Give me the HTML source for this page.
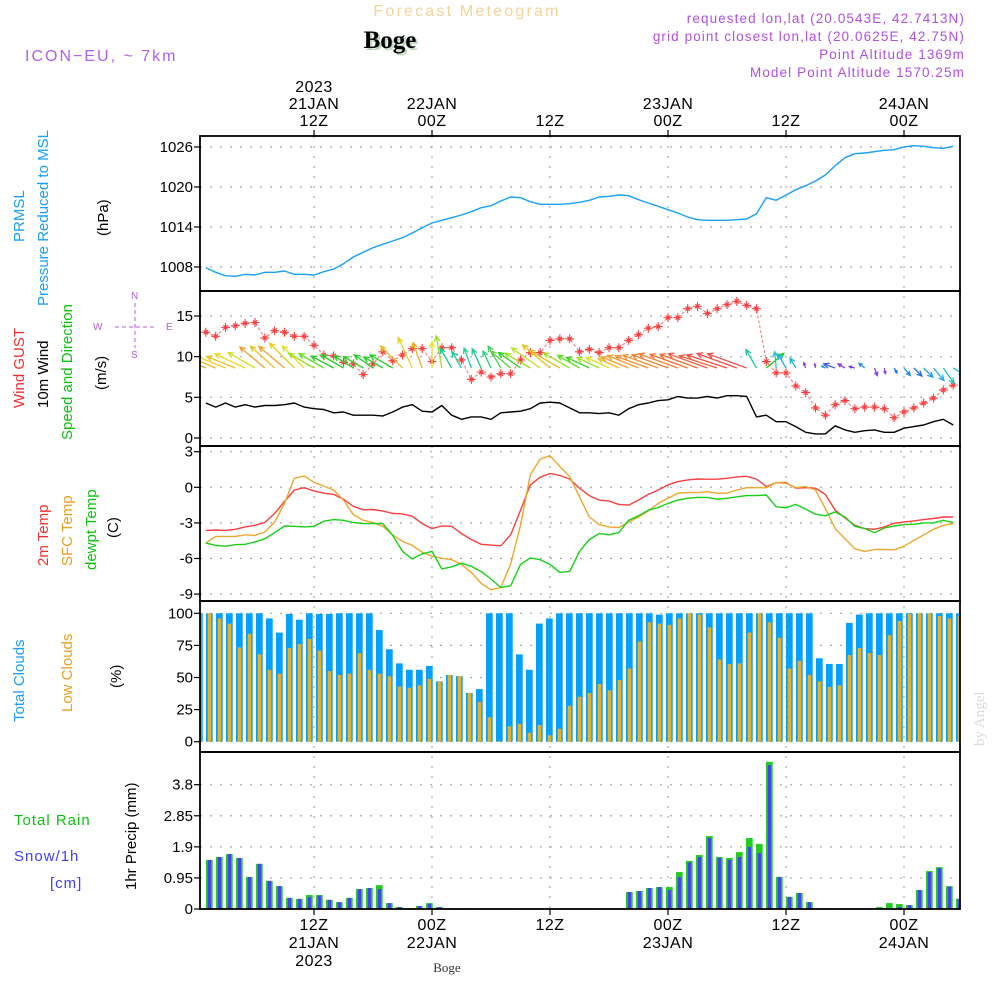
<!DOCTYPE html>
<html><head><meta charset="utf-8"><style>
html,body{margin:0;padding:0;background:#fff}
svg{display:block}
text{font-family:"Liberation Sans",sans-serif}
</style></head><body>
<svg id="chart" width="1000" height="1000" viewBox="0 0 1000 1000" xmlns="http://www.w3.org/2000/svg">
<rect x="0" y="0" width="1000" height="1000" fill="#fff"/>
<text x="467" y="16" text-anchor="middle" font-size="16" letter-spacing="2.2" fill="#f3d49c">Forecast Meteogram</text>
<text x="392" y="50" text-anchor="middle" font-size="25" font-weight="bold" fill="#bcd8bc" style="font-family:'Liberation Serif',serif">Boge</text>
<text x="390" y="48" text-anchor="middle" font-size="25" font-weight="bold" fill="#000" style="font-family:'Liberation Serif',serif">Boge</text>
<text x="25" y="61" font-size="16" letter-spacing="2" fill="#b060e8">ICON−EU, ~ 7km</text>
<g font-size="13.5" fill="#b050e0" text-anchor="end" letter-spacing="1.1">
<text x="965" y="23">requested lon,lat (20.0543E, 42.7413N)</text>
<text x="965" y="41">grid point closest lon,lat (20.0625E, 42.75N)</text>
<text x="965" y="59">Point Altitude 1369m</text>
<text x="965" y="77">Model Point Altitude 1570.25m</text>
</g>
<g id="grid"></g>
<g id="marks"></g>
<g id="frames"></g>
<g id="labels" font-size="15"></g>
<g font-size="15">
<text transform="translate(24,242) rotate(-90)" fill="#1aa0f0">PRMSL</text>
<text transform="translate(48,306) rotate(-90)" fill="#1aa0f0">Pressure Reduced to MSL</text>
<text transform="translate(108,236) rotate(-90)" fill="#000">(hPa)</text>
<text transform="translate(24,408) rotate(-90)" fill="#f03030">Wind GUST</text>
<text transform="translate(48,408) rotate(-90)" fill="#000">10m Wind</text>
<text transform="translate(72,440) rotate(-90)" fill="#10c010">Speed and Direction</text>
<text transform="translate(106,390) rotate(-90)" fill="#000">(m/s)</text>
<text transform="translate(48,566) rotate(-90)" fill="#f03030">2m Temp</text>
<text transform="translate(72,566) rotate(-90)" fill="#e8a020">SFC Temp</text>
<text transform="translate(96,570) rotate(-90)" fill="#10c010">dewpt Temp</text>
<text transform="translate(118,538) rotate(-90)" fill="#000">(C)</text>
<text transform="translate(24,722) rotate(-90)" fill="#1aa0f0">Total Clouds</text>
<text transform="translate(72,712) rotate(-90)" fill="#e8a020">Low Clouds</text>
<text transform="translate(121,688) rotate(-90)" fill="#000">(%)</text>
<text transform="translate(136,890) rotate(-90)" fill="#000">1hr Precip (mm)</text>
<text x="14" y="825" fill="#10c010" letter-spacing="1">Total  Rain</text>
<text x="14" y="861" fill="#4040f0" letter-spacing="1">Snow/1h</text>
<text x="50" y="888" fill="#4040f0" letter-spacing="1">[cm]</text>
</g>
<g fill="#b060e0" stroke="#b060e0" font-size="10">
<text x="93" y="330" stroke="none">W</text><text x="166" y="330" stroke="none">E</text>
<text x="131" y="299" stroke="none">N</text><text x="131" y="358" stroke="none">S</text>
<line x1="115" y1="327" x2="157" y2="327" stroke-width="1" stroke-dasharray="4 3"/>
<line x1="135" y1="303" x2="135" y2="348" stroke-width="1" stroke-dasharray="4 3"/>
</g>
<text transform="translate(984,746) rotate(-90)" font-size="15" fill="#d8ddd8" style="font-family:'Liberation Serif',serif">by Angel</text>
<text x="447" y="972" text-anchor="middle" font-size="13" fill="#333" style="font-family:'Liberation Serif',serif">Boge</text>
</svg>
<script>
const pressure=[1007.9,1007.2,1006.7,1006.6,1006.9,1006.8,1007.2,1007.2,1007.4,1006.9,1006.9,1006.8,1007.3,1007.7,1008.5,1009.5,1010.2,1010.9,1011.4,1011.9,1012.4,1013.1,1013.9,1014.6,1015.0,1015.4,1015.8,1016.3,1016.9,1017.2,1017.9,1018.5,1018.4,1017.8,1017.4,1017.4,1017.4,1017.5,1017.7,1018.0,1018.5,1018.6,1018.8,1018.7,1018.1,1017.6,1017.1,1016.6,1016.1,1015.5,1015.1,1015.0,1015.0,1015.0,1015.1,1015.2,1016.0,1018.4,1018.0,1018.8,1019.6,1020.2,1020.9,1021.8,1023.2,1024.4,1025.0,1025.1,1025.3,1025.5,1025.6,1026.0,1026.2,1026.1,1025.9,1025.8,1026.1];
const gust=[13.0,12.5,13.6,13.8,14.1,14.2,12.3,13.2,13.0,12.5,12.5,11.4,10.2,10.1,9.3,9.1,7.8,9.1,10.6,9.5,10.2,11.0,11.0,9.4,11.1,11.1,9.6,7.2,8.1,7.5,7.9,7.9,9.6,10.5,10.5,12.0,12.2,12.2,10.6,10.9,10.5,11.1,11.1,12.0,12.7,13.5,13.7,14.8,14.8,15.9,16.2,15.3,15.9,16.4,16.8,16.3,15.9,9.4,8.0,8.0,6.4,5.6,3.7,2.8,4.1,4.6,3.6,3.8,3.8,3.6,2.5,3.2,3.7,4.3,4.9,5.9,6.5];
const wind10=[4.3,3.8,4.3,3.8,4.1,3.8,4.0,4.0,4.1,4.3,3.8,3.6,3.5,3.1,3.2,2.8,2.8,2.8,2.7,3.2,3.8,4.1,3.3,3.2,4.0,2.8,2.3,2.6,2.6,2.3,3.1,3.2,3.3,3.6,4.3,4.4,4.3,3.7,3.1,3.1,3.0,3.1,2.8,3.6,4.1,4.3,4.6,4.7,5.1,4.9,4.9,5.1,4.9,5.2,5.2,5.1,2.6,2.8,2.0,2.0,1.4,0.7,0.5,0.5,1.5,1.0,0.7,0.9,1.0,0.7,0.7,1.2,1.4,1.6,2.0,2.3,1.6];
const windDir=[157,157,158,158,155,150,140,138,140,135,135,150,150,152,150,148,150,145,150,150,135,115,110,90,100,120,120,110,115,115,120,140,145,150,145,140,150,150,150,155,155,155,155,158,158,160,160,160,160,160,160,160,162,162,160,160,120,40,95,120,120,110,100,150,160,150,165,140,-70,-80,-60,-50,-45,-45,-50,-55,-30];
const windColor=["#f0a020","#f0b020","#e8d020","#e8c020","#e8d820","#d8e020","#f0a030","#e8c020","#f0a030","#e8d020","#e0e020","#a0e020","#60e020","#20d020","#20d020","#20d020","#30d020","#20d020","#20d020","#20d020","#e8c020","#e8d020","#f0b020","#e8e020","#a0e020","#20c890","#20c8a0","#20d0a0","#20c890","#20d080","#40d060","#60d040","#20d020","#a0e020","#c0e020","#e8c020","#e8c020","#a0e020","#60e020","#40d020","#a0e020","#e0e020","#e8c020","#f0a030","#f0a030","#f09030","#f09030","#f08030","#f08030","#f07030","#f07030","#f06040","#f06040","#f05040","#f05050","#f05050","#20c8a0","#20d020","#20c8c0","#20b0e0","#20b0e0","#9040e0","#9040e0","#2090e0","#4060e0","#9040e0","#7040e0","#2090e0","#9040e0","#9040e0","#2070e0","#2090e0","#2070e0","#20a0e0","#20b0e0","#20c0c0","#20c0e0"];
const temp2m=[-3.63,-3.6,-3.63,-3.54,-3.34,-3.2,-2.97,-2.2,-1.2,-0.23,-0.03,-0.3,-0.5,-0.6,-1.0,-1.6,-1.9,-1.87,-2.0,-2.2,-2.24,-2.44,-3.06,-3.48,-3.26,-3.29,-3.9,-4.4,-4.8,-4.87,-4.93,-4.0,-1.93,0.2,0.85,1.16,1.0,0.7,-0.08,-0.7,-1.08,-1.16,-1.44,-1.5,-1.08,-0.6,-0.23,0.2,0.48,0.62,0.7,0.68,0.68,0.76,0.88,0.93,0.7,0.06,0.4,0.4,-0.08,-0.03,-0.08,-0.6,-1.93,-2.58,-3.2,-3.48,-3.54,-3.34,-3.03,-2.92,-2.83,-2.72,-2.63,-2.5,-2.5];
const tempSfc=[-4.7,-4.14,-4.14,-4.14,-4.0,-4.05,-3.77,-2.92,-1.36,0.76,0.96,0.42,0.1,-0.23,-1.08,-2.3,-2.78,-2.97,-3.29,-4.0,-4.56,-4.9,-5.47,-5.8,-5.98,-6.1,-6.5,-7.17,-8.1,-8.64,-8.44,-6.46,-3.2,1.05,2.38,2.66,1.76,0.9,-0.8,-2.5,-3.14,-3.34,-3.4,-2.92,-2.5,-2.0,-1.36,-0.93,-0.5,-0.45,-0.45,-0.37,-0.5,-0.5,-0.23,-0.03,-0.03,-0.03,0.4,0.34,-0.03,0.06,-0.23,-1.78,-3.48,-4.33,-5.18,-5.4,-5.24,-5.24,-5.27,-4.96,-4.48,-4.0,-3.54,-3.2,-3.06];
const dewpt=[-4.7,-4.9,-4.96,-4.84,-4.8,-4.6,-4.33,-3.82,-3.26,-3.29,-3.34,-3.29,-2.86,-2.72,-2.78,-2.97,-3.06,-3.06,-3.06,-4.05,-5.4,-6.03,-5.6,-5.4,-6.88,-6.7,-6.4,-6.66,-7.1,-7.73,-8.44,-8.3,-6.5,-5.95,-6.1,-6.5,-7.17,-7.08,-5.4,-4.4,-3.9,-4.0,-3.82,-2.78,-2.4,-1.93,-1.7,-1.36,-1.08,-0.93,-0.85,-0.85,-1.0,-0.93,-0.8,-0.7,-0.7,-0.65,-1.64,-1.73,-1.44,-1.84,-2.27,-2.4,-2.07,-2.5,-3.29,-3.48,-3.82,-3.43,-3.26,-3.14,-3.12,-3.0,-3.0,-2.78,-2.97];
const totalClouds=[100,100,100,100,100,100,100,96,85,99.5,95,100,99.5,99.5,100,100,100,100,87,72,61,56,56,59,47,52,51,38,41,100,100,100,68,56,92,96,100,100,100,100,100,100,100,100,100,100,99,100,100,100,100,100,100,100,100,100,100,100,100,100,100,100,65,60.5,60.5,92.5,99,100,100,100,100,100,100,100,100,100,100];
const lowClouds=[100,100,96,92,73.5,84,68,56,53,73,76,80,71,55,52,53,69,56,53,51,43,42,44,49,47,52,51,38,31,19,0.5,12,14,7,13,5,10,28,35,38,45,40,48,57,78,93,92,91,96,100,99,89,64,60.5,61,85,100,93,81,57,63,52,47,42.6,44,67.5,73,69,67.5,83,94,99.5,100,100,98,96,98];
const rainTotal=[0,1.50,1.59,1.68,1.56,0.98,1.38,0.86,0.70,0.34,0.31,0.43,0.43,0.28,0.21,0.34,0.61,0.64,0.73,0.18,0.06,0.02,0.09,0.18,0.06,0.02,0.02,0,0,0,0,0,0,0,0,0,0,0,0,0,0,0,0.01,0.52,0.55,0.64,0.67,0.67,1.13,1.47,1.65,2.23,1.59,1.56,1.74,2.17,1.99,4.50,0.98,0.37,0.49,0.21,0,0,0,0,0,0,0.06,0.18,0.15,0.12,0.58,1.16,1.28,0.70,0.31];
const snow=[0,1.50,1.59,1.68,1.56,0.98,1.38,0.86,0.70,0.34,0.31,0.37,0.41,0.28,0.21,0.34,0.61,0.64,0.61,0.18,0.06,0.02,0.09,0.16,0.06,0.02,0.02,0,0,0,0,0,0,0,0,0,0,0,0,0,0,0,0.01,0.52,0.55,0.64,0.67,0.58,0.98,1.42,1.59,2.17,1.56,1.50,1.59,1.90,1.71,4.40,0.98,0.37,0.49,0.21,0,0,0,0,0,0,0,0,0.06,0.12,0.58,1.13,1.25,0.68,0.31];
const pressTicks=[1008,1014,1020,1026];
const windTicks=[0,5,10,15];
const tempTicks=[-9,-6,-3,0,3];
const cloudTicks=[0,25,50,75,100];
const precipTicks=[0,0.95,1.9,2.85,3.8];
const precipTickLabels=["0","0.95","1.9","2.85","3.8"];
const timeTicks=[12,24,36,48,60,72];
const topLabels=[["2023","21JAN","12Z"],["22JAN","00Z"],["12Z"],["23JAN","00Z"],["12Z"],["24JAN","00Z"]];
const bottomLabels=[["12Z","21JAN","2023"],["00Z","22JAN"],["12Z"],["00Z","23JAN"],["12Z"],["00Z","24JAN"]];

const X0=200,X1=960;
const xT=h=>314+(h-12)*118/12;
const xBar=j=>196+j*10;
const lin=(d0,d1,r0,r1)=>v=>r0+(v-d0)*(r1-r0)/(d1-d0);
const yP=lin(1008,1026,267,147);
const yW=lin(0,15,438,316);
const yT=lin(0,3,487.3,451.7);
const yC=lin(0,100,741.7,613.3);
const yR=lin(0,3.8,909,784.7);
const panels=[[136,291],[291,446],[446,601],[601,752],[752,909]];
const NS="http://www.w3.org/2000/svg";
function mk(tag,attrs,parent){const e=document.createElementNS(NS,tag);for(const k in attrs)e.setAttribute(k,attrs[k]);parent.appendChild(e);return e;}
const G=document.getElementById('grid'),M=document.getElementById('marks'),F=document.getElementById('frames'),L=document.getElementById('labels');

const defs=mk('defs',{},document.getElementById('chart'));
const cp=mk('clipPath',{id:'plotclip'},defs);mk('rect',{x:X0,y:136,width:X1-X0,height:773},cp);
M.setAttribute('clip-path','url(#plotclip)');

function hgrid(vals,yf,lbls,name){vals.forEach((v,k)=>{const y=yf(v);
 const g=mk('line',{x1:X0,x2:X1,y1:y,y2:y,stroke:'#aaa','stroke-width':1.2,'stroke-dasharray':'2 8'},G);
 
 
 const tk=mk('line',{x1:X0-6,x2:X0,y1:y,y2:y,stroke:'#000','stroke-width':1.2},F);
 
 
 const t=mk('text',{x:X0-7,y:y+5,'text-anchor':'end',fill:'#000'},L);t.textContent=lbls?lbls[k]:String(v);
 
 
});}
hgrid(pressTicks,yP,null,'pressure');
hgrid(windTicks,yW,null,'wind');
hgrid(tempTicks,yT,null,'temp');
hgrid(cloudTicks,yC,null,'cloud');
hgrid(precipTicks,yR,precipTickLabels,'precip');
timeTicks.forEach((h,k)=>{const x=xT(h);
 const g=mk('line',{x1:x,x2:x,y1:136,y2:909,stroke:'#aaa','stroke-width':1.2,'stroke-dasharray':'2 8'},G);
 
 
 mk('line',{x1:x,x2:x,y1:130,y2:136,stroke:'#000','stroke-width':1.2},F);
 mk('line',{x1:x,x2:x,y1:909,y2:915,stroke:'#000','stroke-width':1.2},F);
 const tl=topLabels[k];tl.forEach((s,r)=>{const t=mk('text',{x:x,y:126-(tl.length-1-r)*17,'text-anchor':'middle',fill:'#000','font-size':16,'letter-spacing':'0.5'},L);t.textContent=s;
  
  });
 bottomLabels[k].forEach((s,r)=>{const t=mk('text',{x:x,y:930+r*18,'text-anchor':'middle',fill:'#000','font-size':16,'letter-spacing':'0.5'},L);t.textContent=s;
  
  });
});

function line(arr,yf,color,w,name,dash){const pts=arr.map((v,i)=>xT(i+1).toFixed(1)+','+yf(v).toFixed(1)).join(' ');
 const p=mk('polyline',{points:pts,fill:'none',stroke:color,'stroke-width':w,'stroke-linejoin':'round'},M);
 if(dash)p.setAttribute('stroke-dasharray',dash);
 
 }

line(pressure,yP,'#1aa0f0',1.4,'pressure-line');

totalClouds.forEach((v,j)=>{const x=xBar(j);
 const b=mk('rect',{x:x,y:yC(v),width:6.7,height:yC(0)-yC(v),fill:'#04a0fa'},M);
 
 
 const o=lowClouds[j];
 const b2=mk('rect',{x:x+1.7,y:yC(o),width:3.6,height:yC(0)-yC(o),fill:'#e6b02c'},M);
 
 });

rainTotal.forEach((v,j)=>{const x=xBar(j);
 if(v>0){const b=mk('rect',{x:x,y:yR(v),width:6.7,height:yR(0)-yR(v),fill:'#22cc22'},M);
 
 }
 const s=snow[j];
 if(s>0){const b2=mk('rect',{x:x+1.8,y:yR(s),width:3.3,height:yR(0)-yR(s),fill:'#4444f0'},M);
 
 }});

line(temp2m,yT,'#f84040',1.4,'temp-2m-line');
line(tempSfc,yT,'#eaa830',1.4,'temp-sfc-line');
line(dewpt,yT,'#18d018',1.4,'dewpoint-line');

line(wind10,yW,'#000',1.4,'wind10-line');
line(gust,yW,'#f87070',1.0,'gust-line','3 2');
gust.forEach((v,i)=>{const x=xT(i+1),y=yW(v);
 const g=mk('path',{d:`M${x-4.5},${y}H${x+4.5}M${x},${y-4.5}V${y+4.5}M${x-2.2},${y-2.2}L${x+2.2},${y+2.2}M${x-2.2},${y+2.2}L${x+2.2},${y-2.2}`,stroke:'#f84040','stroke-width':1.1,fill:'none'},M);
 
 });
const pxPerMs=yW(0)-yW(1);
windDir.forEach((d,i)=>{const x=xT(i+1),y=368;const len=wind10[i]*pxPerMs;const a=d*Math.PI/180;
 const tx=x+len*Math.cos(a),ty=y-len*Math.sin(a);
 const hl=Math.min(6,len*0.5),h1=a+Math.PI-0.45,h2=a+Math.PI+0.45;
 const p=mk('path',{d:`M${x},${y}L${tx},${ty}M${tx+hl*Math.cos(h1)},${ty-hl*Math.sin(h1)}L${tx},${ty}L${tx+hl*Math.cos(h2)},${ty-hl*Math.sin(h2)}`,stroke:windColor[i],'stroke-width':1.3,fill:'none'},M);
 
 });

panels.forEach(([a,b])=>{const r=mk('rect',{x:X0,y:a,width:X1-X0,height:b-a,fill:'none',stroke:'#000','stroke-width':1.8},F);
 
 });
</script>
</body></html>
